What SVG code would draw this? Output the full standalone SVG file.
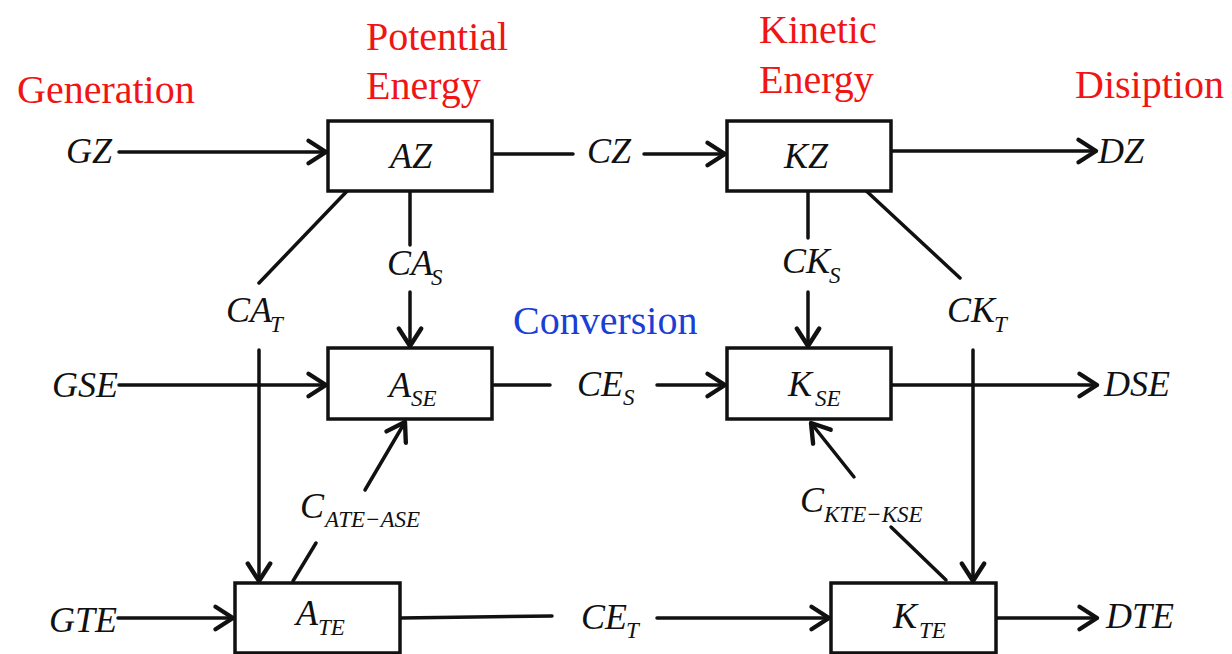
<svg xmlns="http://www.w3.org/2000/svg" width="1232" height="654" viewBox="0 0 1232 654">
<style>
.h{font-family:'Liberation Serif','Tinos','DejaVu Serif','Noto Serif',serif;font-size:40px;fill:#f01414}
.hb{font-family:'Liberation Serif','Tinos','DejaVu Serif','Noto Serif',serif;font-size:40px;fill:#1a3fd6}
.t{font-family:'Liberation Serif','Tinos','DejaVu Serif','Noto Serif',serif;font-style:italic;font-size:36px;fill:#111}
.s{font-size:23px}
.box{fill:#fff;stroke:#111;stroke-width:3.5}
.c line{stroke:#111;stroke-width:3.5;stroke-linecap:round}
.a{marker-end:url(#ah)}
</style>
<defs>
<marker id="ah" markerUnits="userSpaceOnUse" markerWidth="30" markerHeight="30" viewBox="-16 -12 20 24" refX="0" refY="0" orient="auto">
<path d="M-14,-9 L0,0 L-14,9" fill="none" stroke="#111" stroke-width="3.5" stroke-linecap="round" stroke-linejoin="round"/>
</marker>
</defs>
<rect width="1232" height="654" fill="#fff"/>
<g id="headings">
<text class="h" x="17" y="103">Generation</text>
<text class="h" x="366" y="50">Potential</text>
<text class="h" x="366" y="99">Energy</text>
<text class="h" x="759" y="43">Kinetic</text>
<text class="h" x="759" y="93">Energy</text>
<text class="h" x="1075" y="98">Disiption</text>
<text class="hb" x="513" y="334">Conversion</text>
</g>
<g class="c" id="connectors">
<line class="a" x1="119" y1="152" x2="326" y2="152"/>
<line x1="494" y1="154" x2="573" y2="154"/>
<line class="a" x1="644" y1="154" x2="725" y2="154"/>
<line class="a" x1="891" y1="151" x2="1096" y2="151"/>
<line x1="410" y1="192" x2="410" y2="245"/>
<line class="a" x1="410" y1="292" x2="410" y2="346"/>
<line x1="350" y1="188" x2="259" y2="283"/>
<line class="a" x1="259" y1="350" x2="259" y2="581"/>
<line class="a" x1="119" y1="385" x2="326" y2="385"/>
<line x1="494" y1="385" x2="550" y2="385"/>
<line class="a" x1="657" y1="385" x2="725" y2="385"/>
<line class="a" x1="891" y1="385" x2="1097" y2="385"/>
<line x1="808" y1="192" x2="808" y2="238"/>
<line class="a" x1="808" y1="292" x2="808" y2="346"/>
<line x1="861" y1="186" x2="960" y2="278"/>
<line class="a" x1="973" y1="350" x2="973" y2="581"/>
<line class="a" x1="365" y1="490" x2="405" y2="422"/>
<line x1="293" y1="581" x2="316" y2="543"/>
<line class="a" x1="854" y1="477" x2="811" y2="423"/>
<line x1="946" y1="580" x2="891" y2="527"/>
<line class="a" x1="118" y1="618" x2="233" y2="618"/>
<line x1="401" y1="618" x2="552" y2="616"/>
<line class="a" x1="657" y1="618" x2="829" y2="618"/>
<line class="a" x1="996" y1="618" x2="1097" y2="618"/>
</g>
<g id="AZ"><rect class="box" x="328" y="121" width="164" height="70"/><text class="t" x="411" y="168" text-anchor="middle">AZ</text></g>
<g id="KZ"><rect class="box" x="727" y="121" width="164" height="70"/><text class="t" x="806" y="168" text-anchor="middle">KZ</text></g>
<g id="ASE"><rect class="box" x="328" y="348" width="164" height="71"/><text class="t" x="389" y="397">A<tspan class="s" x="411" y="406">SE</tspan></text></g>
<g id="KSE"><rect class="box" x="727" y="348" width="164" height="71"/><text class="t" x="788" y="396">K<tspan class="s" x="815" y="406">SE</tspan></text></g>
<g id="ATE"><rect class="box" x="235" y="583" width="165" height="70"/><text class="t" x="296" y="625">A<tspan class="s" x="318" y="635">TE</tspan></text></g>
<g id="KTE"><rect class="box" x="831" y="583" width="165" height="70"/><text class="t" x="893" y="628">K<tspan class="s" x="919" y="638">TE</tspan></text></g>
<g id="labels">
<text class="t" x="66" y="163">GZ</text>
<text class="t" x="587" y="163">CZ</text>
<text class="t" x="1098" y="163">DZ</text>
<text class="t" x="387" y="275">CA<tspan class="s" x="431" y="285">S</tspan></text>
<text class="t" x="226" y="322">CA<tspan class="s" x="270" y="332">T</tspan></text>
<text class="t" x="782" y="273">CK<tspan class="s" x="829" y="283">S</tspan></text>
<text class="t" x="947" y="322">CK<tspan class="s" x="994" y="332">T</tspan></text>
<text class="t" x="52" y="397">GSE</text>
<text class="t" x="577" y="396">CE<tspan class="s" x="623" y="405">S</tspan></text>
<text class="t" x="1104" y="396">DSE</text>
<text class="t" x="300" y="518">C<tspan class="s" x="325" y="527">ATE−ASE</tspan></text>
<text class="t" x="800" y="512">C<tspan class="s" x="824" y="522">KTE−KSE</tspan></text>
<text class="t" x="49" y="632">GTE</text>
<text class="t" x="581" y="629">CE<tspan class="s" x="626" y="638">T</tspan></text>
<text class="t" x="1106" y="628">DTE</text>
</g>
</svg>
